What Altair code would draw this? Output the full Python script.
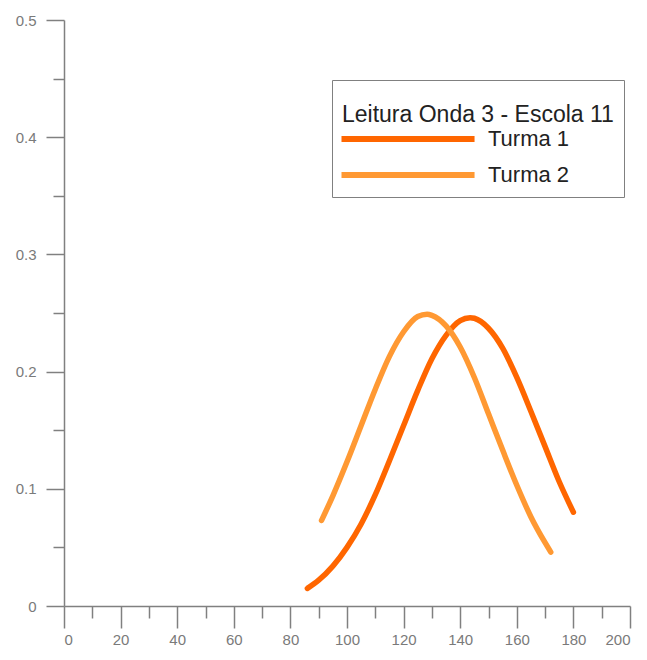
import altair as alt
import pandas as pd

# Turma 1 curve
x_turma1 = [86, 90, 95, 100, 105, 110, 115, 120, 125, 130, 135, 140, 143.5,
            145, 150, 155, 160, 165, 170, 175, 180]
y_turma1 = [0.015, 0.022, 0.034, 0.050, 0.070, 0.095, 0.124, 0.154, 0.184,
            0.211, 0.231, 0.2435, 0.246, 0.2455, 0.237, 0.220, 0.195, 0.166,
            0.136, 0.106, 0.080]

# Turma 2 curve
x_turma2 = [91, 95, 100, 105, 110, 115, 120, 125, 128.3, 130, 135, 140, 145,
            150, 155, 160, 165, 170, 172]
y_turma2 = [0.073, 0.094, 0.123, 0.154, 0.185, 0.213, 0.234, 0.247, 0.249,
            0.248, 0.239, 0.221, 0.195, 0.164, 0.133, 0.103, 0.076, 0.054,
            0.046]

series = ["Turma 1", "Turma 2"]
colors = ["#FF6600", "#FF9933"]
legend_title = "Leitura Onda 3 - Escola 11"

x_ticks = [0, 10, 20, 30, 40, 50, 60, 70, 80, 90, 100, 110, 120, 130, 140,
           150, 160, 170, 180, 190, 200]
y_ticks = [0, 0.05, 0.1, 0.15, 0.2, 0.25, 0.3, 0.35, 0.4, 0.45, 0.5]

df = pd.concat([
    pd.DataFrame({"x": x_turma1, "y": y_turma1, "turma": series[0]}),
    pd.DataFrame({"x": x_turma2, "y": y_turma2, "turma": series[1]}),
], ignore_index=True)

axis_gray = "#808080"
label_gray = "#7a7a7a"

x_axis = alt.Axis(
    values=x_ticks,
    title=None,
    grid=False,
    labelExpr="datum.value % 20 === 0 ? datum.label : ''",
    labelOverlap=False,
    tickSize={"condition": {"test": "datum.value % 20 === 0", "value": 22}, "value": 12},
    labelPadding=4,
)

y_axis = alt.Axis(
    values=y_ticks,
    title=None,
    grid=False,
    format=".1~f",
    labelExpr="round(datum.value * 100) % 10 === 0 ? datum.label : ''",
    labelOverlap=False,
    tickSize={"condition": {"test": "round(datum.value * 100) % 10 === 0", "value": 18}, "value": 11},
    labelPadding=10,
)

chart = alt.Chart(df).mark_line(
    strokeWidth=5.5, strokeCap="round", strokeJoin="round", interpolate="monotone"
).encode(
    x=alt.X("x:Q", scale=alt.Scale(domain=[0, 200], nice=False, zero=False), axis=x_axis),
    y=alt.Y("y:Q", scale=alt.Scale(domain=[0, 0.5], nice=False), axis=y_axis),
    color=alt.Color(
        "turma:N",
        scale=alt.Scale(domain=series, range=colors),
        legend=alt.Legend(
            title=["", legend_title],
            titleLineHeight=14,
            titleLimit=600,
            orient="none",
            legendX=268,
            legendY=60,
            symbolType="M-1.77,0H18.7",
            symbolSize=169,
            symbolStrokeWidth=6,
            labelOffset=124,
            rowPadding=12,
            titlePadding=1,
            padding=10,
        ),
    ),
    order=alt.Order("x:Q"),
).properties(
    width=566,
    height=586,
    padding={"left": 64, "top": 20, "right": 17, "bottom": 54},
    autosize=alt.AutoSizeParams(type="none"),
).configure_view(
    stroke=None
).configure_axis(
    domainColor=axis_gray,
    domainWidth=1.5,
    tickColor=axis_gray,
    tickWidth=1.5,
    labelColor=label_gray,
    labelFont="Liberation Sans",
    labelFontSize=15,
).configure_legend(
    titleFont="Liberation Sans",
    titleFontSize=23,
    titleFontWeight="normal",
    titleColor="#222222",
    labelFont="Liberation Sans",
    labelFontSize=22,
    labelColor="#222222",
    strokeColor="#808080",
    fillColor="white",
)

chart.save("out.html", embed_options={"renderer": "svg", "actions": False})
